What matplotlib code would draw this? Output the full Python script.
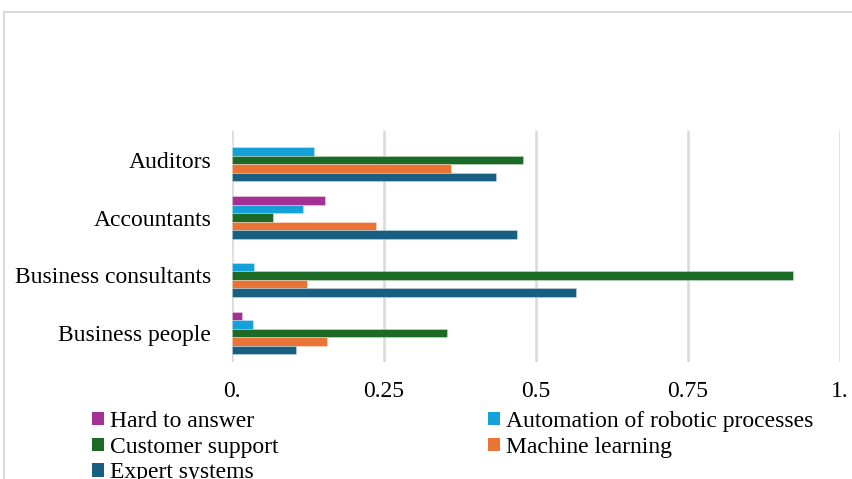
import matplotlib
matplotlib.use("Agg")
import matplotlib.pyplot as plt
from matplotlib.patches import Rectangle, Patch
import numpy as np

plt.rcParams['font.family'] = ['Liberation Serif', 'DejaVu Serif']

categories = ["Auditors", "Accountants", "Business consultants", "Business people"]
series_names = ["Hard to answer", "Automation of robotic processes",
                "Customer support", "Machine learning", "Expert systems"]
hard_to_answer = [0.0, 0.153, 0.0, 0.017]
automation_rpa = [0.135, 0.117, 0.037, 0.035]
customer_support = [0.479, 0.068, 0.923, 0.354]
machine_learning = [0.361, 0.237, 0.124, 0.156]
expert_systems = [0.435, 0.468, 0.565, 0.105]
x_ticks = [0.0, 0.25, 0.5, 0.75, 1.0]
x_tick_labels = ["0.", "0.25", "0.5", "0.75", "1."]

colors = ["#a23193", "#14a0d8", "#1b6b27", "#ea7436", "#185f82"]
values = [hard_to_answer, automation_rpa, customer_support, machine_learning, expert_systems]

W, H = 853, 479
FS = 17
fig = plt.figure(figsize=(W / 100, H / 100), dpi=100)
ax = fig.add_axes([232 / W, 1 - 362 / H, (840 - 232) / W, (362 - 131) / H])

y = np.arange(len(categories))
h = 0.147
for j, (name, vals, c) in enumerate(zip(series_names, values, colors)):
    ax.barh(y + (j - 2) * h, vals, height=h, color=c, label=name,
            edgecolor=(1, 1, 1, 0.35), linewidth=0.6, zorder=3)

ax.set_xlim(0, 1)
ax.set_ylim(3.5, -0.5)
ax.set_yticks(y)
ax.set_yticklabels(categories, fontsize=FS)
ax.set_xticks(x_ticks)
ax.set_xticklabels(x_tick_labels, fontsize=FS)
ax.tick_params(axis='both', length=0)
ax.tick_params(axis='y', pad=15)
ax.tick_params(axis='x', pad=14)
ax.grid(axis='x', color='#d9d9d9', linewidth=1.8, zorder=0)
for s in ax.spines.values():
    s.set_visible(False)

# legend: first column three entries, second column two
order = [0, 2, 4, 1, 3]
handles = [Patch(facecolor=colors[i], edgecolor='none') for i in order]
labels = [series_names[i] for i in order]
fig.legend(handles, labels, ncol=2, loc='upper left',
           bbox_to_anchor=(92 / W, 1 - 411 / H), frameon=False, fontsize=FS,
           handlelength=0.5, handleheight=0.5, handletextpad=0.25,
           columnspacing=8.9, labelspacing=0.2, borderaxespad=0, borderpad=0)

# outer chart frame
fig.add_artist(Rectangle((4.5 / W, -0.2), 2.0, 1.2 - 11.5 / H,
                         transform=fig.transFigure, fill=False,
                         edgecolor='#d9d9d9', linewidth=1.5))

fig.savefig("out.png", dpi=100)
